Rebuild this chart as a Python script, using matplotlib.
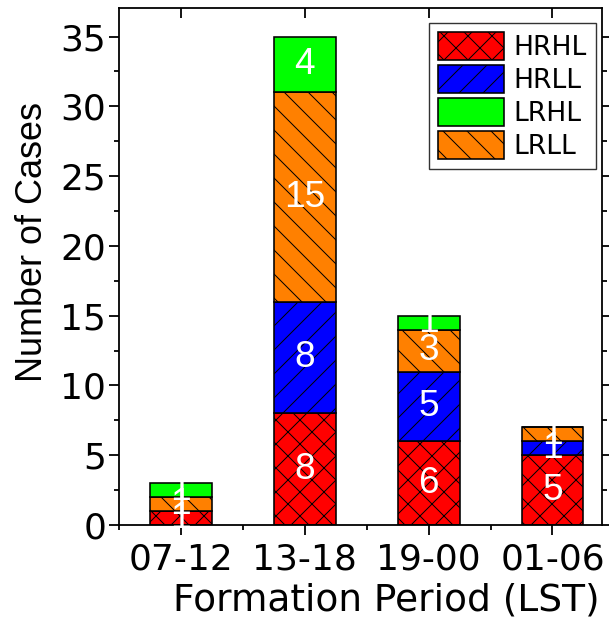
import matplotlib
matplotlib.use('Agg')
import matplotlib.pyplot as plt
import numpy as np
from matplotlib.ticker import MultipleLocator, FixedLocator

# at 72 dpi one point is one pixel
DPI = 72
plt.rcParams['font.family'] = ['DejaVu Sans']
plt.rcParams['hatch.linewidth'] = 1.0

periods = ['07-12', '13-18', '19-00', '01-06']
hrhl = [1, 8, 6, 5]
hrll = [0, 8, 5, 1]
lrll = [1, 15, 3, 1]
lrhl = [1, 4, 1, 0]

x = np.arange(1, len(periods) + 1)

fig = plt.figure(figsize=(609 / DPI, 625 / DPI), dpi=DPI)
ax = fig.add_axes([119 / 609, 100 / 625, 483 / 609, 517 / 625])

# stacking order bottom -> top: HRHL, HRLL, LRLL, LRHL
layers = [
    ('HRHL', hrhl, '#ff0000', 'x'),
    ('HRLL', hrll, '#0000ff', '/'),
    ('LRLL', lrll, '#ff8000', '\\'),
    ('LRHL', lrhl, '#00ff00', ''),
]
bottom = np.zeros(len(periods))
bars = {}
for name, vals, color, hatch in layers:
    vals = np.array(vals, dtype=float)
    b = ax.bar(x, vals, 0.5, bottom=bottom, color=color, edgecolor='black',
               linewidth=1.6, hatch=hatch, label=name)
    bars[name] = b
    for xi, v, b0 in zip(x, vals, bottom):
        if v > 0:
            ax.text(xi, b0 + v / 2, f'{int(v)}', color='white', fontsize=37,
                    family='Liberation Sans', ha='center', va='center')
    bottom += vals

ax.set_xlim(0.5, 4.4)
ax.set_ylim(0, 37.05)
ax.set_xticks(x)
ax.set_xticklabels(periods)
ax.xaxis.set_minor_locator(FixedLocator([0.5, 1.5, 2.5, 3.5]))
ax.yaxis.set_major_locator(MultipleLocator(5))
ax.yaxis.set_minor_locator(MultipleLocator(2.5))

ax.tick_params(axis='both', which='major', labelsize=36, length=10, width=1.8,
               direction='out', pad=3)
ax.tick_params(axis='x', which='major', pad=7)
ax.tick_params(axis='both', which='minor', length=5, width=1.8, direction='out')
ax.tick_params(axis='y', which='both', right=True)
for s in ax.spines.values():
    s.set_linewidth(1.8)

# inward ticks along the top edge
sec = ax.secondary_xaxis('top')
sec.set_xticks(x)
sec.set_xticklabels([])
sec.tick_params(direction='in', length=10, width=1.8)
sec.spines['top'].set_visible(False)

ax.set_xlabel('Formation Period (LST)', fontsize=37.5)
ax.set_ylabel('Number of Cases', fontsize=36, family='Liberation Sans')
ax.xaxis.set_label_coords(0.553, -0.112)
ax.yaxis.set_label_coords(-0.143, 0.547)

order = ['HRHL', 'HRLL', 'LRHL', 'LRLL']
leg = ax.legend([bars[n] for n in order], order, loc='upper right',
                bbox_to_anchor=(0.9876, 0.971), borderaxespad=0,
                fontsize=26.5, frameon=True, fancybox=False, edgecolor='black',
                handlelength=2.5, handleheight=1.25, labelspacing=0.15,
                handletextpad=0.35, borderpad=0.35)
leg.get_frame().set_linewidth(1.4)
for h in leg.legend_handles:
    h.set_linewidth(1.6)

fig.savefig('out.png', dpi=DPI)
